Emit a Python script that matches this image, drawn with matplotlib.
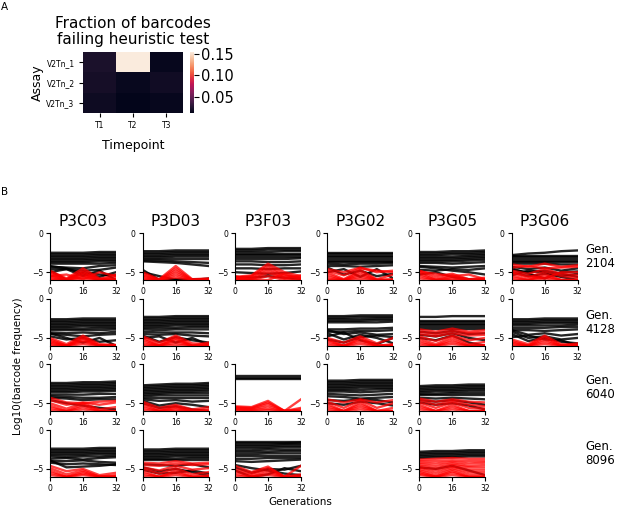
import numpy as np
import matplotlib
matplotlib.use("Agg")
import matplotlib.pyplot as plt
import seaborn as sns

# ---------------- Panel A data ----------------
assays = ["V2Tn_1", "V2Tn_2", "V2Tn_3"]
timepoints = ["T1", "T2", "T3"]
fail_frac_v2tn1 = [0.022, 0.155, 0.014]
fail_frac_v2tn2 = [0.020, 0.015, 0.018]
fail_frac_v2tn3 = [0.017, 0.012, 0.014]
cbar_ticks = [0.05, 0.10, 0.15]

# ---------------- Panel B data ----------------
populations = ["P3C03", "P3D03", "P3F03", "P3G02", "P3G05", "P3G06"]
start_gens = [2104, 4128, 6040, 8096]
generations = [0, 8, 16, 24, 32]
x_ticks = [0, 16, 32]
y_ticks = [0, -5]

# ---- Gen 2104 ----
P3C03_2104_black = [
    [-2.5, -2.5, -2.5, -2.4, -2.4], [-2.7, -2.7, -2.7, -2.6, -2.6],
    [-2.9, -2.9, -2.9, -2.8, -2.8], [-3.1, -3.1, -3.1, -3.0, -3.0],
    [-3.3, -3.3, -3.3, -3.2, -3.2], [-3.5, -3.5, -3.5, -3.4, -3.4],
    [-3.7, -3.7, -3.7, -3.6, -3.6], [-3.9, -3.9, -3.9, -3.9, -3.8],
    [-4.3, -4.4, -4.5, -4.2, -4.1], [-4.6, -4.6, -4.8, -4.7, -4.4],
    [-4.8, -6.0, -5.0, -5.3, -5.4], [-5.0, -4.6, -5.5, -4.8, -6.0],
    [-4.2, -4.5, -5.2, -5.6, -5.0]]
P3C03_2104_red = [
    [-4.8, -5.8, -4.5, -5.8, -5.9], [-5.0, -5.9, -4.8, -5.9, -5.3],
    [-5.2, -6.0, -5.0, -6.0, -6.0], [-5.4, -6.0, -5.2, -6.0, -5.6],
    [-5.6, -6.0, -5.4, -6.0, -6.0], [-5.8, -6.0, -5.6, -6.0, -6.0],
    [-6.0, -6.0, -5.8, -6.0, -6.0], [-5.5, -5.3, -5.9, -5.0, -5.5]]

P3D03_2104_black = [
    [-2.3, -2.3, -2.2, -2.2, -2.2], [-2.5, -2.5, -2.4, -2.4, -2.4],
    [-2.7, -2.7, -2.6, -2.6, -2.6], [-2.9, -2.9, -2.8, -2.8, -2.8],
    [-3.1, -3.1, -3.0, -3.0, -3.0], [-3.3, -3.3, -3.3, -3.3, -3.3],
    [-3.5, -3.5, -3.6, -3.7, -3.8], [-3.6, -3.7, -3.8, -4.0, -4.2],
    [-4.7, -6.0, -5.9, -6.0, -5.8], [-5.0, -5.5, -6.0, -5.9, -6.0]]
P3D03_2104_red = [
    [-5.0, -5.9, -4.2, -5.9, -5.8], [-5.2, -6.0, -4.5, -6.0, -6.0],
    [-5.4, -6.0, -4.8, -6.0, -5.9], [-5.6, -6.0, -5.1, -6.0, -6.0],
    [-5.8, -6.0, -5.4, -6.0, -6.0], [-6.0, -6.0, -5.7, -6.0, -6.0]]

P3F03_2104_black = [
    [-2.0, -2.0, -1.9, -1.9, -1.9], [-2.2, -2.2, -2.1, -2.1, -2.1],
    [-2.4, -2.4, -2.4, -2.3, -2.3], [-2.6, -2.6, -2.6, -2.6, -2.6],
    [-2.8, -2.8, -2.8, -2.8, -2.8], [-3.0, -3.0, -3.0, -3.0, -3.0],
    [-3.3, -3.3, -3.3, -3.3, -3.2], [-3.6, -3.6, -3.7, -3.7, -3.6],
    [-4.0, -4.0, -4.1, -4.1, -4.0], [-4.5, -4.5, -4.6, -4.5, -4.5],
    [-5.0, -5.1, -5.2, -5.1, -4.9], [-5.6, -5.7, -5.5, -5.7, -5.8]]
P3F03_2104_red = [
    [-5.6, -5.4, -3.9, -5.0, -5.5], [-5.7, -5.5, -4.2, -5.3, -5.9],
    [-5.8, -5.6, -4.5, -5.5, -5.6], [-5.9, -5.8, -4.8, -5.7, -6.0],
    [-5.9, -5.9, -5.1, -5.8, -5.4], [-6.0, -6.0, -5.5, -6.0, -6.0],
    [-5.5, -6.0, -6.0, -5.2, -5.8]]

P3G02_2104_black = [
    [-2.5, -2.5, -2.5, -2.5, -2.5], [-2.7, -2.7, -2.7, -2.7, -2.7],
    [-2.9, -2.9, -2.9, -2.9, -2.9], [-3.1, -3.1, -3.1, -3.1, -3.1],
    [-3.3, -3.3, -3.3, -3.3, -3.3], [-3.5, -3.5, -3.5, -3.5, -3.5],
    [-3.7, -3.7, -3.7, -3.7, -3.7], [-3.9, -4.0, -3.9, -3.9, -3.8],
    [-4.2, -4.2, -4.3, -4.2, -4.1], [-4.4, -5.3, -4.8, -5.5, -5.2],
    [-5.0, -4.6, -5.6, -4.6, -5.8]]
P3G02_2104_red = [
    [-4.6, -5.0, -4.4, -5.0, -4.8], [-4.8, -5.4, -4.5, -4.8, -5.0],
    [-5.0, -5.9, -4.7, -5.9, -5.3], [-5.3, -6.0, -5.0, -6.0, -5.9],
    [-5.6, -6.0, -5.3, -6.0, -6.0], [-5.9, -6.0, -5.6, -6.0, -6.0],
    [-6.0, -6.0, -5.9, -6.0, -6.0]]

P3G05_2104_black = [
    [-2.4, -2.4, -2.3, -2.3, -2.2], [-2.6, -2.6, -2.5, -2.5, -2.4],
    [-2.8, -2.8, -2.7, -2.7, -2.6], [-3.0, -3.0, -3.0, -2.9, -2.8],
    [-3.2, -3.2, -3.2, -3.1, -3.0], [-3.4, -3.4, -3.4, -3.3, -3.2],
    [-3.6, -3.6, -3.6, -3.5, -3.4], [-3.8, -3.8, -3.9, -3.8, -3.7],
    [-4.2, -4.3, -4.4, -4.3, -4.2], [-4.3, -4.5, -4.8, -5.0, -5.3],
    [-4.7, -4.8, -4.6, -4.7, -4.5], [-5.3, -5.0, -5.6, -5.9, -6.0]]
P3G05_2104_red = [
    [-4.8, -5.5, -5.2, -5.9, -5.7], [-5.0, -5.8, -5.4, -6.0, -5.9],
    [-5.2, -6.0, -5.6, -6.0, -6.0], [-5.5, -6.0, -5.8, -6.0, -6.0],
    [-5.8, -6.0, -6.0, -6.0, -6.0], [-4.9, -5.2, -5.5, -5.3, -5.9]]

P3G06_2104_black = [
    [-2.8, -2.6, -2.5, -2.3, -2.2], [-2.9, -2.9, -2.9, -2.9, -2.9],
    [-3.1, -3.1, -3.1, -3.1, -3.1], [-3.3, -3.3, -3.3, -3.3, -3.3],
    [-3.5, -3.5, -3.5, -3.5, -3.5], [-3.7, -3.7, -3.7, -3.7, -3.7],
    [-3.9, -3.9, -3.9, -4.0, -4.0], [-4.3, -4.6, -4.4, -4.8, -4.5],
    [-4.7, -5.0, -4.8, -5.2, -5.6], [-5.0, -5.5, -5.2, -5.6, -6.0],
    [-4.5, -5.2, -5.8, -5.0, -4.9], [-5.4, -4.8, -5.0, -5.5, -5.2]]
P3G06_2104_red = [
    [-4.0, -4.3, -3.9, -4.3, -4.1], [-4.4, -4.2, -4.5, -4.4, -4.3],
    [-4.8, -5.2, -4.6, -5.2, -5.4], [-5.1, -5.7, -4.9, -5.5, -5.7],
    [-5.4, -6.0, -5.2, -6.0, -6.0], [-5.7, -6.0, -5.5, -6.0, -6.0],
    [-6.0, -6.0, -5.8, -6.0, -6.0], [-5.0, -5.5, -5.8, -5.0, -5.0]]

# ---- Gen 4128 ----
P3C03_4128_black = [
    [-2.6, -2.6, -2.5, -2.5, -2.5], [-2.8, -2.8, -2.7, -2.7, -2.7],
    [-3.0, -3.0, -2.9, -2.9, -2.9], [-3.2, -3.2, -3.1, -3.1, -3.1],
    [-3.4, -3.4, -3.3, -3.3, -3.3], [-3.6, -3.6, -3.5, -3.5, -3.5],
    [-3.8, -3.8, -3.8, -3.7, -3.7], [-4.0, -4.0, -4.0, -4.0, -3.9],
    [-4.3, -4.4, -4.3, -4.4, -4.2], [-4.5, -4.6, -4.8, -4.6, -4.5],
    [-4.8, -5.2, -5.0, -5.5, -5.3], [-4.4, -5.0, -5.6, -5.0, -6.0]]
P3C03_4128_red = [
    [-5.0, -5.8, -4.7, -5.8, -5.9], [-5.2, -6.0, -4.9, -6.0, -6.0],
    [-5.4, -6.0, -5.1, -6.0, -6.0], [-5.6, -6.0, -5.3, -6.0, -6.0],
    [-5.8, -6.0, -5.5, -6.0, -6.0], [-6.0, -6.0, -5.8, -6.0, -6.0]]

P3D03_4128_black = [
    [-2.3, -2.3, -2.2, -2.2, -2.2], [-2.5, -2.5, -2.4, -2.4, -2.4],
    [-2.7, -2.7, -2.6, -2.6, -2.6], [-2.9, -2.9, -2.8, -2.8, -2.8],
    [-3.1, -3.1, -3.0, -3.0, -3.0], [-3.3, -3.3, -3.2, -3.2, -3.2],
    [-3.5, -3.5, -3.4, -3.4, -3.4], [-3.7, -3.7, -3.7, -3.6, -3.6],
    [-3.9, -4.0, -3.9, -3.9, -3.9], [-4.2, -4.3, -4.3, -4.3, -4.4],
    [-4.5, -4.6, -4.5, -4.7, -4.8], [-4.7, -5.5, -4.9, -5.3, -5.6],
    [-5.0, -4.8, -5.6, -5.0, -5.9]]
P3D03_4128_red = [
    [-4.8, -5.6, -4.7, -5.7, -5.8], [-5.0, -5.9, -4.9, -6.0, -6.0],
    [-5.2, -6.0, -5.1, -6.0, -6.0], [-5.5, -6.0, -5.3, -6.0, -6.0],
    [-5.8, -6.0, -5.6, -6.0, -6.0], [-6.0, -6.0, -5.9, -6.0, -5.6]]

P3G02_4128_black = [
    [-2.2, -2.2, -2.1, -2.1, -2.1], [-2.4, -2.4, -2.3, -2.3, -2.3],
    [-2.6, -2.6, -2.6, -2.5, -2.5], [-2.8, -2.8, -2.8, -2.7, -2.7],
    [-3.0, -3.0, -3.0, -3.0, -2.9], [-3.9, -3.9, -3.8, -3.8, -3.7],
    [-4.2, -4.2, -4.1, -4.1, -4.0], [-4.0, -4.5, -4.3, -4.6, -4.5],
    [-4.4, -5.2, -4.6, -5.0, -5.7], [-4.8, -4.3, -5.3, -5.8, -5.0],
    [-5.2, -5.6, -4.9, -4.7, -4.9]]
P3G02_4128_red = [
    [-5.0, -5.6, -4.8, -5.7, -5.0], [-5.2, -6.0, -5.0, -6.0, -5.8],
    [-5.4, -6.0, -5.2, -6.0, -6.0], [-5.7, -6.0, -5.5, -6.0, -6.0],
    [-6.0, -6.0, -5.8, -6.0, -6.0]]

P3G05_4128_black = [
    [-2.3, -2.3, -2.2, -2.2, -2.2], [-2.8, -2.8, -2.8, -2.8, -2.8],
    [-3.0, -3.0, -3.0, -3.0, -3.0], [-3.2, -3.2, -3.2, -3.2, -3.2],
    [-3.4, -3.4, -3.4, -3.4, -3.4], [-3.6, -3.6, -3.6, -3.6, -3.6],
    [-3.8, -3.8, -3.8, -3.8, -3.8], [-4.2, -4.4, -4.1, -4.5, -4.4],
    [-4.6, -4.8, -4.4, -5.0, -5.3], [-5.0, -5.3, -4.7, -5.6, -6.0]]
P3G05_4128_red = [
    [-3.9, -4.2, -3.8, -4.2, -4.0], [-4.2, -4.5, -4.1, -4.4, -4.3],
    [-4.5, -4.8, -4.4, -4.7, -4.6], [-4.8, -5.4, -4.7, -5.3, -5.0],
    [-5.1, -5.8, -4.9, -5.8, -5.5], [-5.4, -6.0, -5.2, -6.0, -5.9],
    [-5.7, -6.0, -5.5, -6.0, -6.0], [-6.0, -6.0, -5.8, -6.0, -6.0]]

P3G06_4128_black = [
    [-2.6, -2.6, -2.5, -2.5, -2.5], [-2.8, -2.8, -2.7, -2.7, -2.7],
    [-3.0, -3.0, -2.9, -2.9, -2.9], [-3.2, -3.2, -3.1, -3.1, -3.1],
    [-3.4, -3.4, -3.4, -3.4, -3.3], [-3.7, -3.7, -3.7, -3.6, -3.6],
    [-4.0, -4.0, -4.1, -4.0, -3.9], [-4.0, -4.6, -4.4, -4.7, -4.5],
    [-4.2, -5.0, -4.8, -5.2, -5.0], [-4.5, -5.4, -5.0, -5.5, -5.7],
    [-4.9, -4.7, -5.2, -5.3, -6.0]]
P3G06_4128_red = [
    [-5.2, -5.8, -4.7, -5.8, -5.9], [-5.4, -6.0, -4.9, -6.0, -6.0],
    [-5.6, -6.0, -5.2, -6.0, -6.0], [-5.8, -6.0, -5.5, -6.0, -6.0],
    [-6.0, -6.0, -5.8, -6.0, -5.7]]

# ---- Gen 6040 ----
P3C03_6040_black = [
    [-2.4, -2.4, -2.3, -2.3, -2.2], [-2.6, -2.6, -2.5, -2.5, -2.4],
    [-2.8, -2.8, -2.7, -2.7, -2.6], [-3.0, -3.0, -2.9, -2.9, -2.8],
    [-3.2, -3.2, -3.1, -3.1, -3.0], [-3.4, -3.4, -3.3, -3.3, -3.2],
    [-3.6, -3.6, -3.5, -3.5, -3.4], [-3.9, -3.9, -3.9, -3.8, -3.8],
    [-4.1, -4.2, -4.3, -4.3, -4.2], [-4.3, -4.4, -4.6, -4.5, -4.5],
    [-4.6, -5.0, -5.3, -5.6, -5.8]]
P3C03_6040_red = [
    [-4.3, -4.9, -5.0, -4.8, -4.7], [-4.6, -5.2, -4.9, -5.2, -4.9],
    [-5.0, -5.7, -5.0, -5.8, -5.5], [-5.3, -6.0, -5.2, -6.0, -6.0],
    [-5.6, -6.0, -5.5, -6.0, -6.0], [-5.9, -6.0, -5.8, -6.0, -6.0]]

P3D03_6040_black = [
    [-2.7, -2.6, -2.5, -2.5, -2.4], [-2.9, -2.8, -2.7, -2.7, -2.6],
    [-3.1, -3.0, -2.9, -2.9, -2.8], [-3.3, -3.2, -3.1, -3.1, -3.0],
    [-3.5, -3.4, -3.3, -3.3, -3.2], [-3.7, -3.6, -3.5, -3.5, -3.4],
    [-3.9, -3.8, -3.7, -3.7, -3.7], [-4.1, -4.0, -4.0, -4.0, -4.0],
    [-4.3, -4.3, -4.3, -4.3, -4.3], [-4.5, -4.7, -4.6, -4.8, -4.7],
    [-4.7, -5.3, -5.0, -5.2, -5.5], [-5.0, -5.6, -5.4, -5.8, -6.0]]
P3D03_6040_red = [
    [-4.8, -5.6, -5.2, -5.8, -5.5], [-5.0, -5.9, -5.4, -6.0, -5.8],
    [-5.3, -6.0, -5.6, -6.0, -6.0], [-5.6, -6.0, -5.8, -6.0, -6.0],
    [-5.9, -6.0, -6.0, -6.0, -6.0]]

P3F03_6040_black = [
    [-1.5, -1.5, -1.5, -1.5, -1.5], [-1.7, -1.7, -1.7, -1.7, -1.7],
    [-1.9, -1.9, -1.9, -1.9, -1.9]]
P3F03_6040_red = [
    [-5.4, -5.5, -4.7, -6.0, -4.5], [-5.5, -5.6, -4.9, -6.0, -5.6],
    [-5.6, -5.7, -5.1, -6.0, -5.8], [-5.7, -5.8, -5.4, -6.0, -6.0],
    [-5.8, -5.9, -5.7, -6.0, -6.0], [-5.9, -6.0, -5.9, -6.0, -6.0]]

P3G02_6040_black = [
    [-2.1, -2.1, -2.0, -2.0, -2.0], [-2.3, -2.3, -2.2, -2.2, -2.2],
    [-2.5, -2.5, -2.4, -2.4, -2.4], [-2.7, -2.7, -2.6, -2.6, -2.6],
    [-2.9, -2.9, -2.8, -2.8, -2.8], [-3.1, -3.1, -3.0, -3.0, -3.0],
    [-3.3, -3.3, -3.3, -3.2, -3.2], [-3.5, -3.5, -3.6, -3.5, -3.4],
    [-3.8, -3.9, -4.0, -3.9, -3.8], [-4.1, -4.2, -4.4, -4.3, -4.2],
    [-4.6, -4.7, -4.5, -4.6, -4.9], [-5.0, -5.2, -4.8, -5.0, -5.3]]
P3G02_6040_red = [
    [-4.5, -4.9, -4.5, -4.9, -4.6], [-4.8, -5.6, -4.6, -5.6, -5.0],
    [-5.1, -6.0, -4.9, -6.0, -5.6], [-5.4, -6.0, -5.2, -6.0, -6.0],
    [-5.7, -6.0, -5.5, -6.0, -6.0], [-6.0, -6.0, -5.8, -6.0, -6.0]]

P3G05_6040_black = [
    [-2.8, -2.7, -2.7, -2.6, -2.6], [-3.0, -2.9, -2.9, -2.8, -2.8],
    [-3.2, -3.1, -3.1, -3.0, -3.0], [-3.4, -3.3, -3.3, -3.2, -3.2],
    [-3.6, -3.5, -3.5, -3.4, -3.4], [-3.8, -3.8, -3.7, -3.7, -3.7],
    [-4.0, -4.0, -4.0, -4.0, -4.0], [-4.3, -4.4, -4.3, -4.4, -4.5],
    [-4.6, -4.8, -4.6, -4.9, -5.2], [-4.9, -5.2, -5.0, -5.3, -5.8]]
P3G05_6040_red = [
    [-4.4, -4.8, -4.5, -4.8, -4.9], [-4.6, -5.2, -4.7, -5.2, -5.4],
    [-4.9, -5.6, -4.9, -5.6, -5.7], [-5.2, -6.0, -5.2, -6.0, -6.0],
    [-5.5, -6.0, -5.5, -6.0, -6.0], [-5.8, -6.0, -5.8, -6.0, -6.0]]

# ---- Gen 8096 ----
P3C03_8096_black = [
    [-2.4, -2.4, -2.4, -2.3, -2.3], [-2.6, -2.6, -2.6, -2.5, -2.5],
    [-2.8, -2.8, -2.8, -2.7, -2.7], [-3.0, -3.0, -3.0, -2.9, -2.9],
    [-3.2, -3.2, -3.2, -3.1, -3.1], [-3.4, -3.5, -3.4, -3.4, -3.3],
    [-3.7, -3.6, -3.8, -3.6, -3.5], [-4.0, -4.0, -3.9, -4.1, -4.2],
    [-4.2, -4.4, -4.3, -4.4, -4.5], [-3.9, -4.8, -4.7, -4.6, -4.4]]
P3C03_8096_red = [
    [-4.6, -5.3, -5.0, -5.8, -5.5], [-4.9, -5.7, -5.2, -6.0, -5.8],
    [-5.2, -6.0, -5.4, -6.0, -6.0], [-5.5, -6.0, -5.6, -6.0, -6.0],
    [-5.8, -6.0, -5.8, -6.0, -6.0]]

P3D03_8096_black = [
    [-2.5, -2.5, -2.4, -2.4, -2.4], [-2.7, -2.7, -2.6, -2.6, -2.6],
    [-2.9, -2.9, -2.8, -2.8, -2.8], [-3.1, -3.1, -3.0, -3.0, -3.0],
    [-3.3, -3.3, -3.2, -3.2, -3.2], [-3.5, -3.5, -3.4, -3.4, -3.4],
    [-3.7, -3.7, -3.7, -3.6, -3.6], [-3.9, -3.9, -3.9, -3.9, -3.9],
    [-4.4, -4.5, -4.6, -4.4, -4.8], [-4.8, -5.3, -5.0, -5.4, -5.9],
    [-5.1, -5.6, -5.5, -5.2, -5.6]]
P3D03_8096_red = [
    [-4.2, -4.3, -4.0, -4.3, -4.2], [-4.5, -4.6, -4.3, -4.5, -4.4],
    [-4.8, -5.2, -4.6, -5.1, -4.9], [-5.0, -5.6, -4.9, -5.7, -5.4],
    [-5.3, -6.0, -5.2, -6.0, -5.8], [-5.6, -6.0, -5.5, -6.0, -6.0],
    [-5.9, -6.0, -5.8, -6.0, -6.0]]

P3F03_8096_black = [
    [-1.5, -1.5, -1.5, -1.5, -1.5], [-1.7, -1.7, -1.7, -1.7, -1.6],
    [-1.9, -1.9, -1.9, -1.8, -1.8], [-2.1, -2.1, -2.1, -2.0, -2.0],
    [-2.3, -2.3, -2.3, -2.2, -2.2], [-2.6, -2.6, -2.5, -2.5, -2.5],
    [-2.8, -2.8, -2.8, -2.7, -2.7], [-3.1, -3.1, -3.0, -3.0, -3.0],
    [-3.3, -3.3, -3.3, -3.3, -3.3], [-3.7, -3.7, -3.6, -3.6, -3.6],
    [-4.0, -4.1, -4.0, -3.9, -3.8], [-4.5, -4.9, -5.2, -5.6, -5.8],
    [-4.8, -5.5, -5.0, -5.1, -4.6], [-5.2, -6.0, -5.7, -4.9, -5.3]]
P3F03_8096_red = [
    [-4.6, -5.4, -4.7, -6.0, -4.6], [-5.0, -5.6, -4.9, -6.0, -5.7],
    [-5.3, -5.8, -5.2, -6.0, -6.0], [-5.6, -6.0, -5.5, -6.0, -6.0],
    [-5.9, -6.0, -5.8, -6.0, -6.0]]

P3G05_8096_black = [
    [-2.8, -2.7, -2.7, -2.6, -2.6], [-3.0, -2.9, -2.9, -2.8, -2.8],
    [-3.2, -3.1, -3.1, -3.0, -3.0], [-3.4, -3.3, -3.3, -3.2, -3.2],
    [-3.6, -3.5, -3.5, -3.4, -3.4], [-4.8, -5.0, -4.6, -5.2, -5.8]]
P3G05_8096_red = [
    [-3.8, -3.7, -3.6, -3.7, -3.7], [-4.0, -4.0, -3.9, -4.0, -4.0],
    [-4.2, -4.3, -4.1, -4.3, -4.2], [-4.4, -4.6, -4.3, -4.6, -4.5],
    [-4.6, -4.9, -4.5, -4.8, -4.8], [-4.8, -5.2, -4.7, -5.1, -5.1],
    [-5.0, -5.5, -4.9, -5.4, -5.4], [-5.2, -5.8, -5.1, -5.7, -5.7],
    [-5.4, -6.0, -5.3, -6.0, -6.0], [-5.6, -6.0, -5.5, -6.0, -6.0],
    [-5.8, -6.0, -5.8, -6.0, -6.0]]

panel_data = {
    ("P3C03", 2104): (P3C03_2104_black, P3C03_2104_red),
    ("P3D03", 2104): (P3D03_2104_black, P3D03_2104_red),
    ("P3F03", 2104): (P3F03_2104_black, P3F03_2104_red),
    ("P3G02", 2104): (P3G02_2104_black, P3G02_2104_red),
    ("P3G05", 2104): (P3G05_2104_black, P3G05_2104_red),
    ("P3G06", 2104): (P3G06_2104_black, P3G06_2104_red),
    ("P3C03", 4128): (P3C03_4128_black, P3C03_4128_red),
    ("P3D03", 4128): (P3D03_4128_black, P3D03_4128_red),
    ("P3G02", 4128): (P3G02_4128_black, P3G02_4128_red),
    ("P3G05", 4128): (P3G05_4128_black, P3G05_4128_red),
    ("P3G06", 4128): (P3G06_4128_black, P3G06_4128_red),
    ("P3C03", 6040): (P3C03_6040_black, P3C03_6040_red),
    ("P3D03", 6040): (P3D03_6040_black, P3D03_6040_red),
    ("P3F03", 6040): (P3F03_6040_black, P3F03_6040_red),
    ("P3G02", 6040): (P3G02_6040_black, P3G02_6040_red),
    ("P3G05", 6040): (P3G05_6040_black, P3G05_6040_red),
    ("P3C03", 8096): (P3C03_8096_black, P3C03_8096_red),
    ("P3D03", 8096): (P3D03_8096_black, P3D03_8096_red),
    ("P3F03", 8096): (P3F03_8096_black, P3F03_8096_red),
    ("P3G05", 8096): (P3G05_8096_black, P3G05_8096_red),
}

# ---------------- Figure ----------------
W, H = 617, 507
fig = plt.figure(figsize=(W / 100, H / 100), dpi=100)


def rect(left, top, width, height):
    return [left / W, 1 - (top + height) / H, width / W, height / H]


# Panel labels
fig.text(1 / W, 1 - 2 / H, "A", fontsize=7.5, va="top", ha="left")
fig.text(1 / W, 1 - 187 / H, "B", fontsize=7.5, va="top", ha="left")

# ---- Panel A heatmap ----
cmap = sns.color_palette("rocket", as_cmap=True)
heat = np.array([fail_frac_v2tn1, fail_frac_v2tn2, fail_frac_v2tn3])
axh = fig.add_axes(rect(83, 52, 100, 61))
mesh = axh.pcolormesh(np.arange(len(timepoints) + 1), np.arange(len(assays) + 1),
                      heat, cmap=cmap, vmin=0.0117, vmax=0.155)
axh.set_xlim(0, len(timepoints))
axh.set_ylim(len(assays), 0)
axh.set_xticks(np.arange(len(timepoints)) + 0.5)
axh.set_xticklabels(timepoints, fontsize=5.5)
axh.set_yticks(np.arange(len(assays)) + 0.5)
axh.set_yticklabels(assays, fontsize=5.5)
axh.tick_params(length=3, width=0.8, pad=3)
for s in axh.spines.values():
    s.set_visible(False)
axh.set_xlabel("Timepoint", fontsize=9, labelpad=6)
axh.set_ylabel("Assay", fontsize=9, labelpad=2)
fig.text(133 / W, 1 - 28 / H, "Fraction of barcodes", fontsize=11,
         ha="center", va="baseline")
fig.text(133 / W, 1 - 44 / H, "failing heuristic test", fontsize=11,
         ha="center", va="baseline")

axc = fig.add_axes(rect(190, 52, 3.5, 61))
cb = fig.colorbar(mesh, cax=axc)
cb.outline.set_visible(False)
cb.set_ticks(cbar_ticks)
cb.set_ticklabels([f"{t:.2f}" for t in cbar_ticks])
axc.tick_params(labelsize=10.5, length=3.5, width=0.8, pad=2)

# ---- Panel B grid ----
col_left = [50, 142.7, 235, 327.3, 419.3, 511.7]
row_top = [233.3, 299, 364.3, 430]
ax_w, ax_h = 66, 46.7

for ci, pop in enumerate(populations):
    for ri, g in enumerate(start_gens):
        key = (pop, g)
        if key not in panel_data:
            continue
        black, red = panel_data[key]
        ax = fig.add_axes(rect(col_left[ci], row_top[ri], ax_w, ax_h))
        ax.plot(generations, np.array(black).T, color="black", alpha=0.85, lw=1.7)
        ax.plot(generations, np.array(red).T, color="red", alpha=0.75, lw=1.7)
        ax.set_xlim(0, 32)
        ax.set_ylim(-6, 0)
        ax.set_xticks(x_ticks)
        ax.set_yticks(y_ticks)
        ax.tick_params(labelsize=5.5, length=3, width=0.8, pad=2)
        ax.spines["top"].set_visible(False)
        ax.spines["right"].set_visible(False)
        ax.spines["left"].set_linewidth(0.8)
        ax.spines["bottom"].set_linewidth(0.8)
        if ri == 0:
            ax.set_title(pop, fontsize=11, pad=5)

for ri, g in enumerate(start_gens):
    yc = row_top[ri] + ax_h / 2
    fig.text(585 / W, 1 - yc / H, f"Gen.\n{g}", fontsize=8.5, ha="left",
             va="center", linespacing=1.05)

fig.text(18 / W, 1 - 366.5 / H, "Log10(barcode frequency)", fontsize=7.5,
         rotation=90, ha="center", va="center")
fig.text(300.5 / W, 1 - 502 / H, "Generations", fontsize=7.5,
         ha="center", va="center")

fig.savefig("out.png", dpi=100)
